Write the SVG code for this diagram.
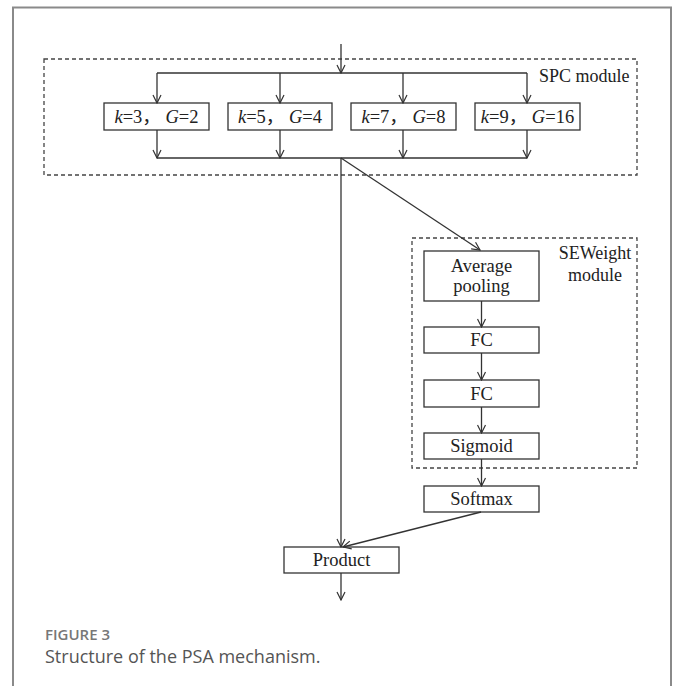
<svg xmlns="http://www.w3.org/2000/svg" width="680" height="686" viewBox="0 0 680 686">
<defs>
<marker id="arr" viewBox="0 0 10 10" refX="9" refY="5" markerWidth="10" markerHeight="10" markerUnits="userSpaceOnUse" orient="auto">
<polyline points="1,1 9,5 1,9" fill="none" stroke="#333" stroke-width="1.2"/>
</marker>
<style>
.ln{fill:none;stroke:#333;stroke-width:1.3}
.bx{fill:#fff;stroke:#333;stroke-width:1.3}
.dash{fill:none;stroke:#444;stroke-width:1.3;stroke-dasharray:4,3}
.t{font-family:"Liberation Serif","Noto Sans CJK SC",serif;font-size:18.5px;fill:#222;text-anchor:middle}
.lbl{font-family:"Liberation Serif",serif;font-size:18px;fill:#222}
.i{font-style:italic}
.cap1{font-family:"Open Sans",sans-serif;font-size:15px;font-weight:600;fill:#777}
.cap2{font-family:"Open Sans",sans-serif;font-size:18px;fill:#555}
</style>
</defs>
<rect x="0" y="0" width="680" height="686" fill="#fff"/>
<rect x="13" y="7.5" width="658" height="700" fill="none" stroke="#8a8a8a" stroke-width="2"/>

<g id="spc-module">
<rect class="dash" x="44" y="59" width="593" height="116"/>
<text class="lbl" x="539" y="82">SPC module</text>
</g>
<g id="se-module">
<rect class="dash" x="412" y="238" width="225" height="230"/>
<text class="lbl" x="595" y="259" text-anchor="middle">SEWeight</text>
<text class="lbl" x="595" y="281" text-anchor="middle">module</text>
</g>

<g id="b1"><rect class="bx" x="104" y="103" width="105" height="27"/><text class="t" x="156.5" y="123"><tspan class="i">k</tspan>=3， <tspan class="i">G</tspan>=2</text></g>
<g id="b2"><rect class="bx" x="228" y="103" width="104" height="27"/><text class="t" x="280" y="123"><tspan class="i">k</tspan>=5， <tspan class="i">G</tspan>=4</text></g>
<g id="b3"><rect class="bx" x="351" y="103" width="105" height="27"/><text class="t" x="403.5" y="123"><tspan class="i">k</tspan>=7， <tspan class="i">G</tspan>=8</text></g>
<g id="b4"><rect class="bx" x="475" y="103" width="105" height="27"/><text class="t" x="527.5" y="123"><tspan class="i">k</tspan>=9， <tspan class="i">G</tspan>=16</text></g>

<g id="avgpool"><rect class="bx" x="424" y="251" width="115" height="50"/><text class="t" x="481.5" y="272">Average</text><text class="t" x="481.5" y="292">pooling</text></g>
<g id="fc1"><rect class="bx" x="424" y="327" width="115" height="26"/><text class="t" x="481.5" y="346">FC</text></g>
<g id="fc2"><rect class="bx" x="424" y="380" width="115" height="27"/><text class="t" x="481.5" y="400">FC</text></g>
<g id="sigmoid"><rect class="bx" x="424" y="433" width="115" height="26"/><text class="t" x="481.5" y="452">Sigmoid</text></g>
<g id="softmax"><rect class="bx" x="424" y="486" width="115" height="26"/><text class="t" x="481.5" y="505">Softmax</text></g>
<g id="product"><rect class="bx" x="284" y="547" width="115" height="26"/><text class="t" x="341.5" y="566">Product</text></g>

<g id="connectors">
<line class="ln" x1="341" y1="44" x2="341" y2="73" marker-end="url(#arr)"/>
<line class="ln" x1="157" y1="73" x2="527" y2="73"/>
<line class="ln" x1="157" y1="73" x2="157" y2="103" marker-end="url(#arr)"/>
<line class="ln" x1="280" y1="73" x2="280" y2="103" marker-end="url(#arr)"/>
<line class="ln" x1="403" y1="73" x2="403" y2="103" marker-end="url(#arr)"/>
<line class="ln" x1="527" y1="73" x2="527" y2="103" marker-end="url(#arr)"/>
<line class="ln" x1="157" y1="130" x2="157" y2="158" marker-end="url(#arr)"/>
<line class="ln" x1="280" y1="130" x2="280" y2="158" marker-end="url(#arr)"/>
<line class="ln" x1="403" y1="130" x2="403" y2="158" marker-end="url(#arr)"/>
<line class="ln" x1="527" y1="130" x2="527" y2="158" marker-end="url(#arr)"/>
<line class="ln" x1="157" y1="158" x2="527" y2="158"/>
<line class="ln" x1="341" y1="158" x2="341" y2="547" marker-end="url(#arr)"/>
<line class="ln" x1="341" y1="158" x2="480" y2="250" marker-end="url(#arr)"/>
<line class="ln" x1="481.5" y1="301" x2="481.5" y2="327" marker-end="url(#arr)"/>
<line class="ln" x1="481.5" y1="353" x2="481.5" y2="380" marker-end="url(#arr)"/>
<line class="ln" x1="481.5" y1="407" x2="481.5" y2="433" marker-end="url(#arr)"/>
<line class="ln" x1="481.5" y1="459" x2="481.5" y2="486" marker-end="url(#arr)"/>
<line class="ln" x1="481" y1="512" x2="343" y2="547" marker-end="url(#arr)"/>
<line class="ln" x1="341" y1="573" x2="341" y2="600" marker-end="url(#arr)"/>
</g>

<text class="cap1" x="45" y="640">FIGURE 3</text>
<text class="cap2" x="45" y="663">Structure of the PSA mechanism.</text>
</svg>
